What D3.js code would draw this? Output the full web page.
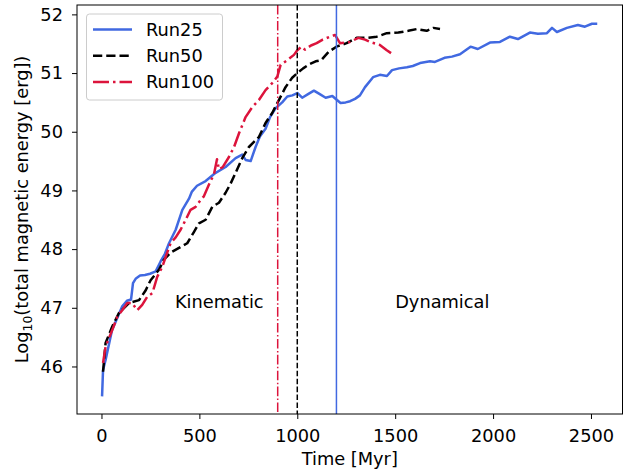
<!DOCTYPE html>
<html>
<head>
<meta charset="utf-8">
<script src="https://cdn.jsdelivr.net/npm/d3@7"></script>
<style>
  html, body { margin: 0; padding: 0; background: #fff; }
  svg { display: block; }
  text { font-family: "DejaVu Sans", sans-serif; }
</style>
</head>
<body>
<svg id="chart" width="631" height="473"></svg>
<script>
// Magnetic energy growth for three runs (time in Myr, log10 energy in erg)
const run25T = [3, 8, 21, 54, 84, 105, 130, 151, 161, 176, 197, 222, 248, 277, 302, 324, 345, 379, 413, 447, 462, 488, 532, 583, 634, 685, 719, 736, 762, 787, 809, 838, 861, 889, 923, 949, 975, 1000, 1025, 1055, 1085, 1115, 1145, 1179, 1203, 1221, 1247, 1270, 1295, 1320, 1346, 1387, 1422, 1458, 1484, 1520, 1560, 1590, 1627, 1678, 1703, 1752, 1790, 1831, 1885, 1922, 1984, 2035, 2086, 2127, 2188, 2229, 2275, 2301, 2326, 2377, 2433, 2469, 2505, 2532];
const run25E = [45.49, 45.94, 46.11, 46.62, 46.85, 47.02, 47.12, 47.14, 47.42, 47.5, 47.55, 47.56, 47.58, 47.62, 47.79, 47.92, 48.1, 48.33, 48.67, 48.86, 48.98, 49.08, 49.16, 49.3, 49.4, 49.55, 49.61, 49.52, 49.5, 49.74, 49.92, 50.05, 50.25, 50.4, 50.5, 50.6, 50.62, 50.66, 50.58, 50.64, 50.7, 50.64, 50.58, 50.61, 50.54, 50.49, 50.5, 50.52, 50.56, 50.62, 50.76, 50.93, 50.97, 50.95, 51.05, 51.08, 51.1, 51.12, 51.17, 51.2, 51.19, 51.26, 51.28, 51.32, 51.45, 51.41, 51.52, 51.53, 51.62, 51.58, 51.69, 51.67, 51.68, 51.77, 51.7, 51.77, 51.82, 51.79, 51.84, 51.84];

const run50T = [8, 21, 55, 89, 140, 192, 226, 251, 294, 319, 353, 396, 438, 472, 498, 532, 566, 600, 634, 660, 685, 719, 753, 804, 838, 872, 906, 940, 974, 1000, 1030, 1062, 1094, 1122, 1160, 1200, 1252, 1303, 1355, 1406, 1457, 1516, 1567, 1610, 1661, 1695, 1729];
const run50E = [45.91, 46.4, 46.68, 46.91, 47.08, 47.13, 47.3, 47.47, 47.65, 47.82, 47.94, 48.02, 48.1, 48.29, 48.44, 48.5, 48.72, 48.79, 48.96, 49.12, 49.3, 49.55, 49.74, 49.91, 50.15, 50.32, 50.54, 50.76, 50.92, 51.0, 51.08, 51.15, 51.2, 51.22, 51.36, 51.45, 51.51, 51.6, 51.6, 51.62, 51.68, 51.69, 51.72, 51.75, 51.72, 51.77, 51.75];

const run100T = [8, 21, 55, 81, 106, 132, 157, 183, 208, 234, 260, 285, 311, 328, 353, 379, 404, 430, 455, 481, 507, 523, 549, 575, 590, 600, 620, 651, 677, 702, 736, 770, 804, 838, 872, 898, 915, 949, 983, 1000, 1022, 1039, 1070, 1099, 1130, 1167, 1193, 1218, 1269, 1312, 1346, 1380, 1422, 1457, 1479];
const run100E = [46.06, 46.34, 46.62, 46.85, 46.96, 47.08, 47.08, 46.96, 47.05, 47.19, 47.25, 47.53, 47.7, 47.87, 48.1, 48.2, 48.33, 48.5, 48.67, 48.72, 48.84, 48.9, 49.1, 49.28, 49.53, 49.36, 49.4, 49.57, 49.74, 49.97, 50.25, 50.42, 50.54, 50.71, 50.83, 50.94, 51.14, 51.22, 51.31, 51.39, 51.45, 51.4, 51.47, 51.51, 51.57, 51.62, 51.65, 51.51, 51.53, 51.6, 51.57, 51.52, 51.48, 51.39, 51.34];

// Transition times between kinematic and dynamical phases
const transitionTimes = [1200, 1000, 900];

const xTicks = [0, 500, 1000, 1500, 2000, 2500];
const yTicks = [46, 47, 48, 49, 50, 51, 52];
const runNames = ["Run25", "Run50", "Run100"];
const phaseLabels = [{ text: "Kinematic", t: 375, e: 47 }, { text: "Dynamical", t: 1500, e: 47 }];

const colors = ["#4169e1", "#000000", "#dc143c"];
const lineDash = ["", "9.25,4", "16,4,2.5,4"];
const vDash = ["", "5.55,2.4", "9.6,2.4,1.5,2.4"];

const svg = d3.select("#chart");
const pLeft = 77, pTop = 5, pRight = 622.5, pBottom = 414;
const FS = 17.8;
const LW = 2.5;

const x = d3.scaleLinear().domain([-125, 2661]).range([pLeft, pRight]);
const y = d3.scaleLinear().domain([45.19, 52.16]).range([pBottom, pTop]);

const series = [
  run25T.map((t, i) => [t, run25E[i]]),
  run50T.map((t, i) => [t, run50E[i]]),
  run100T.map((t, i) => [t, run100E[i]])
];

svg.append("clipPath").attr("id", "plotclip")
  .append("rect").attr("x", pLeft).attr("y", pTop).attr("width", pRight - pLeft).attr("height", pBottom - pTop);

const plot = svg.append("g").attr("clip-path", "url(#plotclip)");

const line = d3.line().x(d => x(d[0])).y(d => y(d[1]));

series.forEach((s, i) => {
  plot.append("path")
    .datum(s)
    .attr("d", line)
    .attr("fill", "none")
    .attr("stroke", colors[i])
    .attr("stroke-width", LW)
    .attr("stroke-linejoin", "round")
    .attr("stroke-dasharray", lineDash[i] || null);
});

transitionTimes.forEach((t, i) => {
  plot.append("line")
    .attr("x1", x(t)).attr("x2", x(t))
    .attr("y1", pTop).attr("y2", pBottom)
    .attr("stroke", colors[i])
    .attr("stroke-width", 1.5)
    .attr("stroke-dasharray", vDash[i] || null);
});

phaseLabels.forEach(p => {
  plot.append("text")
    .attr("x", x(p.t)).attr("y", y(p.e))
    .attr("font-size", FS)
    .attr("fill", "#000")
    .text(p.text);
});

// Axes
const xAxis = d3.axisBottom(x).tickValues(xTicks).tickSize(5).tickPadding(10).tickFormat(d3.format("d"));
const yAxis = d3.axisLeft(y).tickValues(yTicks).tickSize(5).tickPadding(9).tickFormat(d3.format("d"));

const gx = svg.append("g").attr("transform", `translate(0,${pBottom})`).call(xAxis);
const gy = svg.append("g").attr("transform", `translate(${pLeft},0)`).call(yAxis);
[gx, gy].forEach(g => {
  g.select(".domain").remove();
  g.selectAll(".tick line").attr("stroke", "#000").attr("stroke-width", 1);
  g.selectAll(".tick text").attr("font-size", FS).attr("fill", "#000").attr("font-family", "DejaVu Sans, sans-serif");
});

// Frame
svg.append("rect")
  .attr("x", pLeft).attr("y", pTop)
  .attr("width", pRight - pLeft).attr("height", pBottom - pTop)
  .attr("fill", "none").attr("stroke", "#000").attr("stroke-width", 1);

// Axis titles
svg.append("text")
  .attr("x", (pLeft + pRight) / 2).attr("y", 465)
  .attr("text-anchor", "middle")
  .attr("font-size", FS)
  .text("Time [Myr]");

const yl = svg.append("text")
  .attr("transform", `translate(28,${(pTop + pBottom) / 2}) rotate(-90)`)
  .attr("text-anchor", "middle")
  .attr("font-size", FS);
yl.append("tspan").text("Log");
yl.append("tspan").attr("font-size", FS * 0.7).attr("dy", 4).text("10");
yl.append("tspan").attr("dy", -4).text("(total magnetic energy [erg])");

// Legend
const lg = svg.append("g");
lg.append("rect")
  .attr("x", 86.5).attr("y", 14).attr("width", 136).attr("height", 86)
  .attr("rx", 3).attr("ry", 3)
  .attr("fill", "#fff").attr("fill-opacity", 0.8)
  .attr("stroke", "#cccccc").attr("stroke-width", 1);
runNames.forEach((name, i) => {
  const ly = 29.5 + i * 26.3;
  lg.append("line")
    .attr("x1", 93).attr("x2", 132)
    .attr("y1", ly).attr("y2", ly)
    .attr("stroke", colors[i]).attr("stroke-width", LW)
    .attr("stroke-dasharray", lineDash[i] || null);
  lg.append("text")
    .attr("x", 146).attr("y", ly + 6)
    .attr("font-size", FS)
    .text(name);
});
</script>
</body>
</html>
